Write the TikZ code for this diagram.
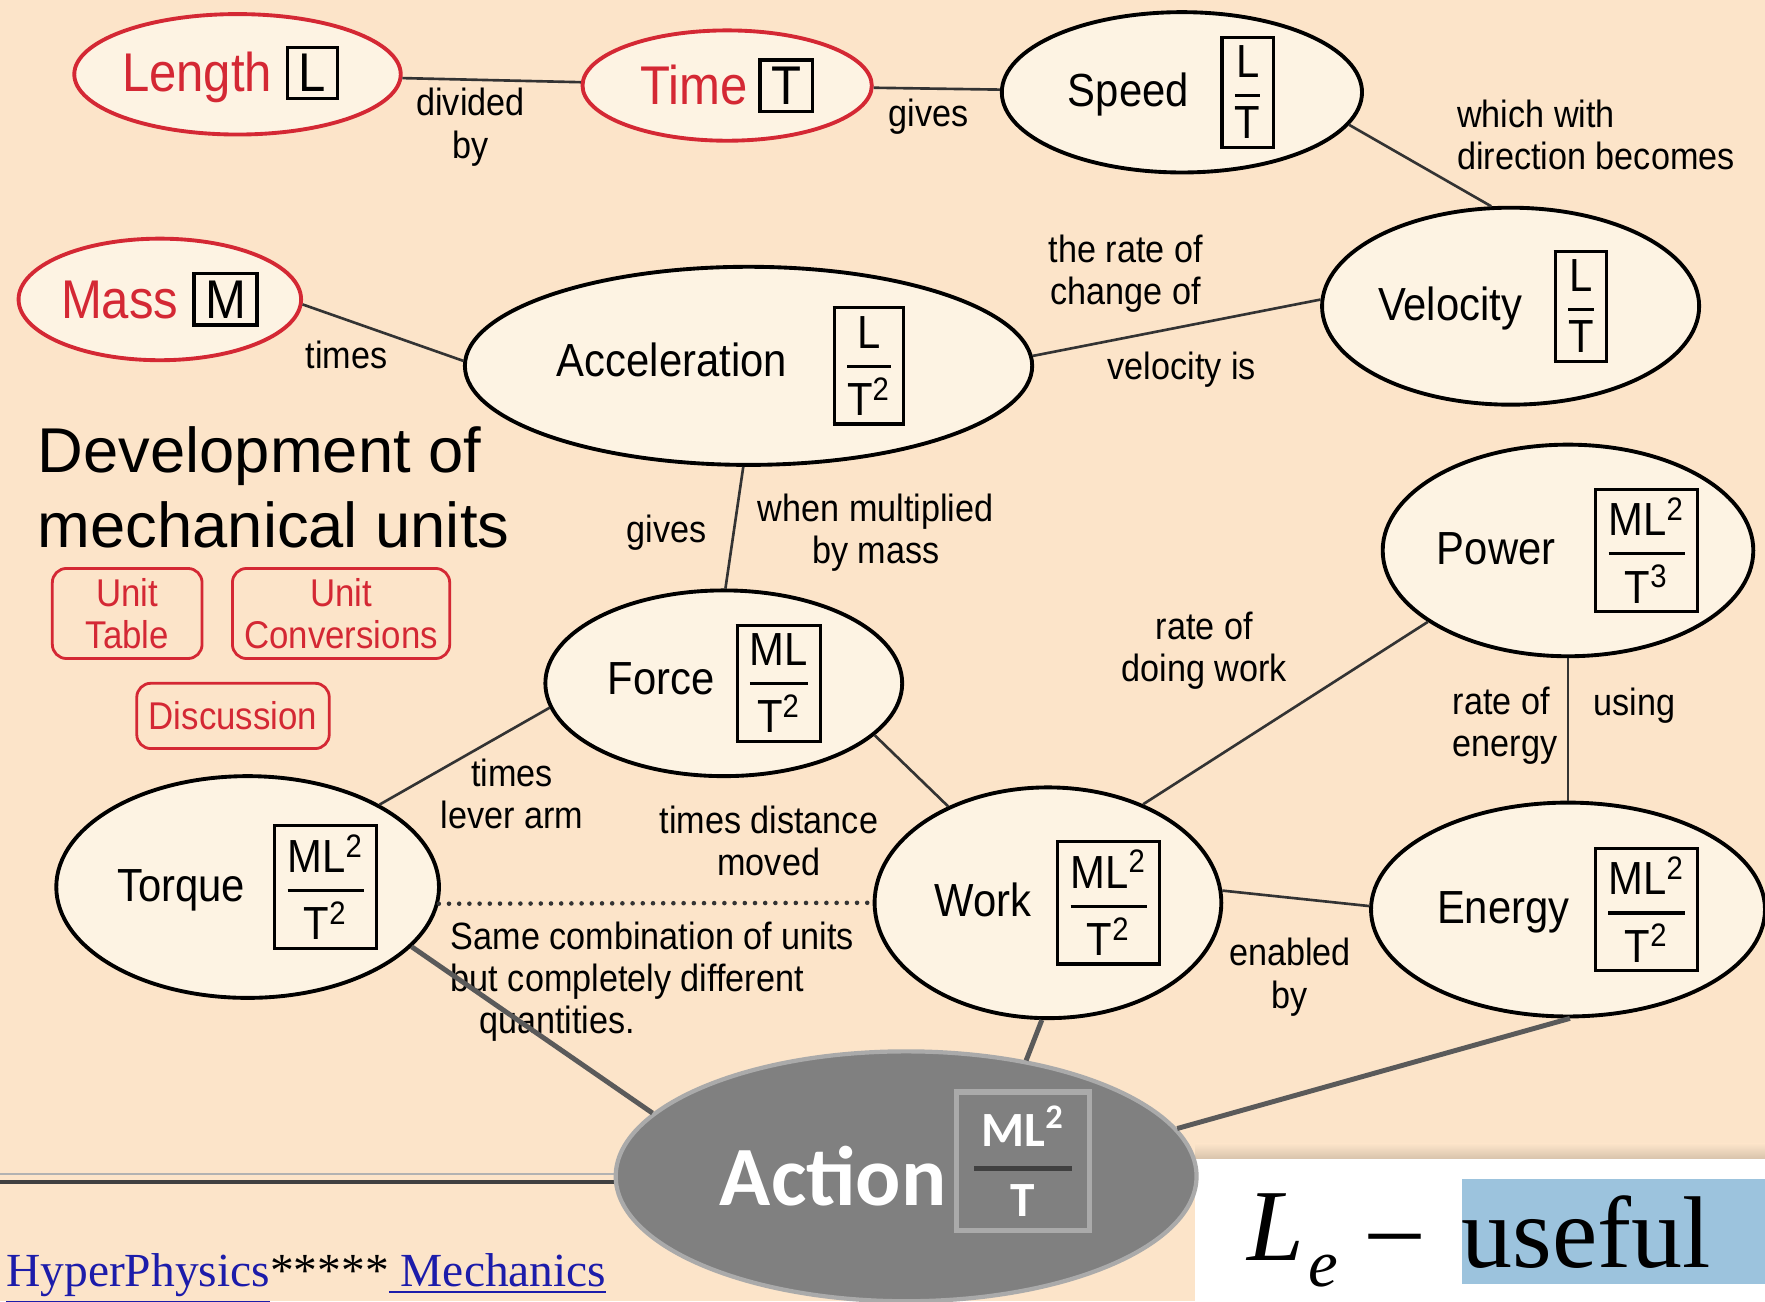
\documentclass[tikz,border=0pt]{standalone}
\usepackage{fontspec}
\setmainfont{Liberation Sans}
\newfontfamily\hpsans{Liberation Sans}[FakeStretch=0.9]
\newfontfamily\actfont{Carlito}
\newfontfamily\hpserif{Liberation Serif}
\usetikzlibrary{shapes.geometric}

\definecolor{pagepeach}{RGB}{252,228,201}
\definecolor{nodecream}{RGB}{253,243,227}
\definecolor{hpred}{RGB}{212,40,52}
\definecolor{actgray}{RGB}{128,128,128}
\definecolor{actrim}{RGB}{170,170,170}
\definecolor{actbar}{RGB}{64,64,64}
\definecolor{actlink}{RGB}{90,90,90}
\definecolor{linkblue}{RGB}{28,28,170}
\definecolor{hlblue}{RGB}{156,195,221}

\newcommand{\namefont}{\hpsans\fontsize{13.2}{15}\selectfont}
\newcommand{\basefont}{\hpsans\fontsize{15.5}{18}\selectfont}
\newcommand{\labfont}{\hpsans\fontsize{10.8}{12}\selectfont}
\newcommand{\btnfont}{\hpsans\fontsize{11}{12}\selectfont}
\newcommand{\headfont}{\fontsize{18}{21.5}\selectfont}

% unit boxes
\setlength{\fboxrule}{0.9pt}
\newcommand{\dimbox}[2]{{\setlength{\fboxsep}{2pt}\fbox{$\displaystyle{\hbox{#1}\above0.9pt\hbox{#2}}$}}}
\newcommand{\basebox}[1]{{\color{black}\setlength{\fboxsep}{1.5pt}\fbox{\hspace{1.2pt}#1\hspace{1.2pt}}}}
\newcommand{\actbox}{{\setlength{\fboxsep}{3.2pt}\setlength{\fboxrule}{1.5pt}%
  \fcolorbox{actrim}{actgray}{\fontsize{14}{16}\selectfont\color{actbar}%
  $\displaystyle{\hbox{\color{white}\hspace{2pt}ML\textsuperscript{2}\hspace{2pt}}\above1.3pt\hbox{\color{white}T}}$}}}

\begin{document}
\begin{tikzpicture}[x=0.32pt, y=-0.32pt,
    quantity/.style 2 args={ellipse, draw=black, line width=1.1pt, fill=nodecream,
      minimum width=#1*0.32pt, minimum height=#2*0.32pt, inner sep=0pt, font=\namefont},
    basequantity/.style 2 args={quantity={#1}{#2}, draw=hpred, text=hpred, font=\basefont},
    link/.style={line width=0.75pt, draw=black!80},
    linklabel/.style={font=\labfont, align=center, inner sep=0pt},
    actionlink/.style={line width=1.4pt, draw=actlink},
    pagebutton/.style 2 args={draw=hpred, text=hpred, line width=0.8pt, rounded corners=4pt,
      minimum width=#1*0.32pt, minimum height=#2*0.32pt, inner sep=0pt, align=center, font=\btnfont}]

  \fill[pagepeach] (0,0) rectangle (1568,1156);
  \useasboundingbox (0,0) rectangle (1568,1156);

  % corner of the next page
  \shade[top color=pagepeach, bottom color=pagepeach!85!black] (1062,1016) rectangle (1568,1030);
  \fill[white] (1062,1030) rectangle (1568,1156);
  \draw[gray!60, line width=0.6pt] (0,1043) -- (600,1043);
  \draw[black!75, line width=1.3pt] (0,1050) -- (600,1050);

  % quantities
  \node[basequantity={290}{107}] (length) at (211,66) {Length\hspace{4pt}\basebox{L}\kern4pt};
  \node[basequantity={257}{98}] (time) at (646,76) {Time\hspace{3pt}\basebox{T}};
  \node[basequantity={251}{108}] (mass) at (142,266) {Mass\hspace{4pt}\basebox{M}};
  \node[quantity={320}{140}] (speed) at (1050,82) {Speed\hspace{9pt}\dimbox{L}{T}\kern6pt};
  \node[quantity={335}{175}] (velocity) at (1342,272) {Velocity\hspace{9pt}\dimbox{L}{T}\kern10pt};
  \node[quantity={504}{176}] (accel) at (665,325) {Acceleration\hspace{13pt}\dimbox{L}{T\textsuperscript{2}}\kern10pt};
  \node[quantity={305}{188}] (power) at (1393,489) {Power\hspace{11pt}\dimbox{ML\textsuperscript{2}}{T\textsuperscript{3}}};
  \node[quantity={317}{165}] (force) at (643,607) {Force\hspace{6pt}\dimbox{ML}{T\textsuperscript{2}}\kern5pt};
  \node[quantity={340}{197}] (torque) at (220,788) {Torque\hspace{8pt}\dimbox{ML\textsuperscript{2}}{T\textsuperscript{2}}};
  \node[quantity={308}{205}] (work) at (931,802) {Work\hspace{7pt}\dimbox{ML\textsuperscript{2}}{T\textsuperscript{2}}};
  \node[quantity={350}{190}] (energy) at (1393,808) {Energy\hspace{7pt}\dimbox{ML\textsuperscript{2}}{T\textsuperscript{2}}};

  % title and page buttons
  \node[anchor=north west, align=left, font=\headfont, inner sep=0pt] (title) at (33,378) {Development of\\mechanical units};
  \node[pagebutton={133}{80}] (unittable) at (113,545) {Unit\\Table};
  \node[pagebutton={193}{80}] (unitconv) at (303,545) {Unit\\Conversions};
  \node[pagebutton={171}{58}] (discussion) at (207,636) {Discussion};

  % links
  \draw[link] (length) -- (time);
  \draw[link] (time) -- (speed);
  \draw[link] (speed.-11) -- (velocity.101);
  \draw[link] (velocity.178) -- (accel.2);
  \draw[link] (mass.-2) -- (accel.179);
  \draw[link] (accel.-93) -- (force.89);
  \draw[link] (force.188) -- (torque.32);
  \draw[link] (force.-19) -- (work.136);
  \draw[link] (work.46) -- (power.207);
  \draw[link] (power) -- (energy);
  \draw[link] (work.4) -- (energy.179);
  \draw[link, line width=1.3pt, line cap=round, dash pattern=on 0pt off 2.9pt] (torque.-5) -- (work.180);

  \node[linklabel] (lbdivided) at (418,113) {divided\\by};
  \node[linklabel] (lbgivesspeed) at (825,104) {gives};
  \node[linklabel, anchor=west, align=left] (lbdirection) at (1294,120) {which with\\direction becomes};
  \node[linklabel] (lbrate) at (1000,243) {the rate of\\change of};
  \node[linklabel] (lbvelis) at (1050,328) {velocity is};
  \node[linklabel] (lbtimes) at (308,315) {times};
  \node[linklabel] (lbgivesforce) at (592,473) {gives};
  \node[linklabel] (lbmass) at (778,473) {when multiplied\\by mass};
  \node[linklabel] (lblever) at (455,705) {times\\lever arm};
  \node[linklabel] (lbdistance) at (683,747) {times distance\\moved};
  \node[linklabel] (lbdoing) at (1070,578) {rate of\\doing work};
  \node[linklabel, anchor=west, align=left] (lbenergy) at (1290,645) {rate of\\energy};
  \node[linklabel] (lbusing) at (1452,627) {using};
  \node[linklabel] (lbenabled) at (1146,868) {enabled\\by};
  \node[linklabel, anchor=west, align=left] (lbsame) at (400,872) {Same combination of units\\but completely different\\\hspace{8pt}quantities.};

  % action
  \node[ellipse, fill=actgray, draw=actrim, line width=1.2pt, minimum width=516*0.32pt,
    minimum height=222*0.32pt, inner sep=0pt, text=white,
    font=\actfont\bfseries\fontsize{24}{28}\selectfont] (action) at (805,1045)
    {Action\hspace{2pt}\raisebox{7pt}[0pt][0pt]{\actbox}};
  \draw[actionlink] (torque.-20) -- (action.166);
  \draw[actionlink] (work.-93) -- (action.44);
  \draw[actionlink] (energy.-89) -- (action.10);

  \node[anchor=base west, inner sep=0pt, font=\hpserif\fontsize{13.5}{16}\selectfont] (hplink) at (5,1143)
    {\textcolor{linkblue}{\underline{HyperPhysics}}*****\textcolor{linkblue}{\underline{\ Mechanics}}};

  \node[anchor=base west, inner sep=0pt, font=\hpserif\itshape\fontsize{29}{34}\selectfont] (lsym) at (1108,1120) {L};
  \node[anchor=base west, inner sep=0pt, font=\hpserif\itshape\fontsize{19}{22}\selectfont] (esub) at (1162,1143) {e};
  \node[anchor=base west, inner sep=0pt, font=\hpserif\fontsize{29}{34}\selectfont] (dash) at (1216,1120) {\textendash};
  \node[anchor=north west, fill=hlblue, minimum width=280*0.32pt, minimum height=93*0.32pt, inner sep=0pt,
    text width=89.6pt, align=left, font=\hpserif\fontsize{29}{34}\selectfont] (useful) at (1298,1047) {useful};
\end{tikzpicture}
\end{document}
